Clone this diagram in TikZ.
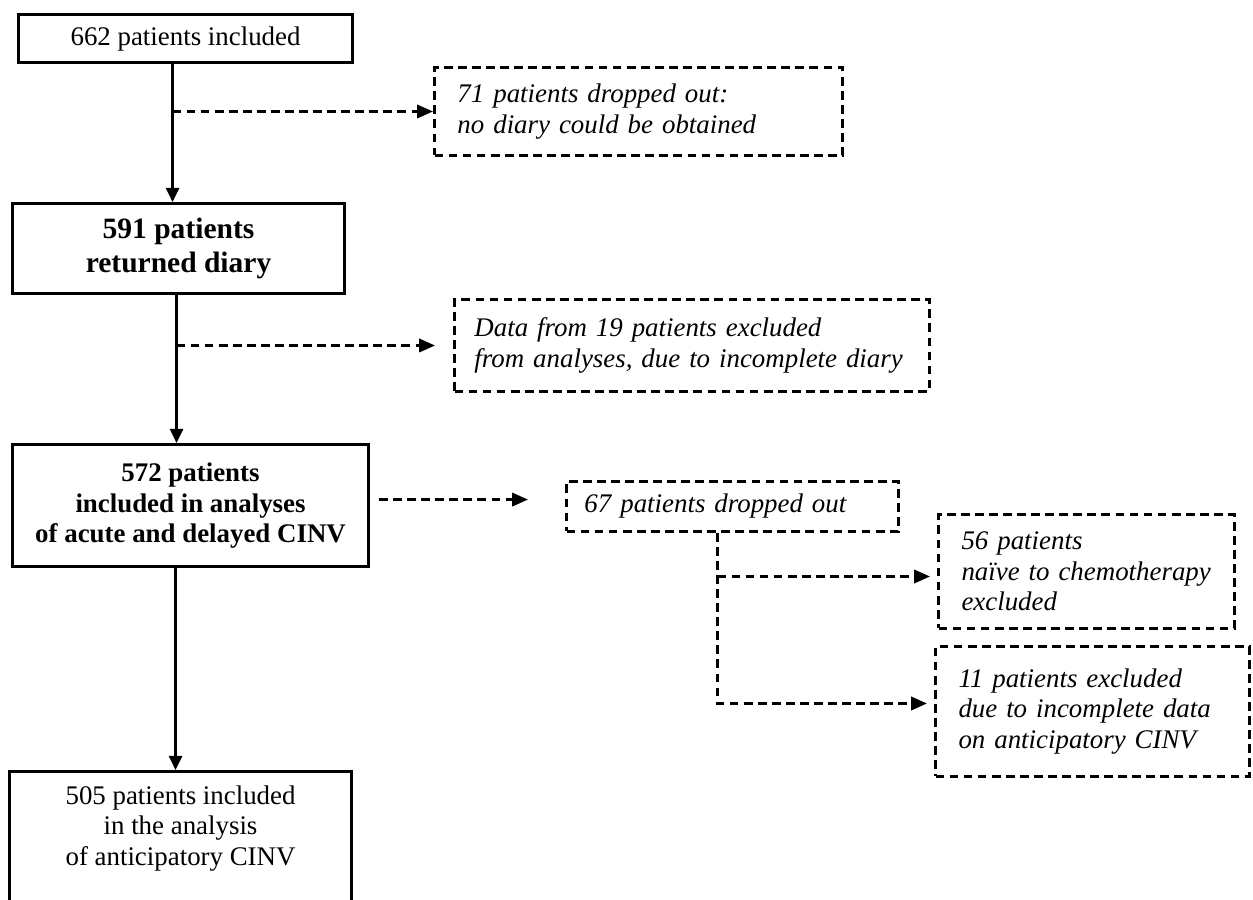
\documentclass[tikz,border=0pt]{standalone}
\usepackage{fontspec}
\setmainfont{Liberation Serif}
\usetikzlibrary{arrows.meta}

\begin{document}
\begin{tikzpicture}[x=0.02cm, y=-0.02cm]

      \tikzset{boxed/.style={draw, line width=1.8pt, anchor=north west, align=center, inner sep=0pt},
               dropped/.style={draw, line width=1.7pt, dash pattern=on 5pt off 3pt, anchor=north west, align=left, inner ysep=0pt, font=\fontsize{15.3}{17.5}\selectfont\itshape},
               flow/.style={line width=1.3pt, -{Triangle[length=8pt, width=7.5pt]}},
               dflow/.style={line width=1.6pt, dash pattern=on 5pt off 3pt, -{Triangle[length=9pt, width=7.5pt]}}}
      \useasboundingbox (0,0) rectangle (1253,899);
%% Main boxes
      	\node[boxed, minimum width=6.68cm, minimum height=0.96cm, font=\fontsize{15.3}{17.5}\selectfont] (m0) at (17,13) {662 patients included};
      	\node[boxed, minimum width=6.64cm, minimum height=1.8cm, font=\fontsize{16.8}{19}\selectfont\bfseries] (m1) at (11,202) {591 patients\\ returned diary};
      	\node[boxed, minimum width=7.12cm, minimum height=2.44cm, font=\fontsize{15.3}{17.6}\selectfont\bfseries] (m2) at (11,443) {572 patients\\ included in analyses\\ of acute and delayed CINV};
      	\node[boxed, minimum width=6.84cm, inner ysep=0.28cm, font=\fontsize{15.3}{17.5}\selectfont] (m3) at (8,770) {505 patients included\\ in the analysis\\ of anticipatory CINV\\[60pt] \mbox{}};
%% Dropped out
      	\node[dropped, text width=7.24cm, inner xsep=0.46cm, minimum height=1.76cm] (d0) at (433,66) {71 patients dropped out:\\ no diary could be obtained};
      	\node[dropped, text width=8.7cm, inner xsep=0.4cm, minimum height=1.84cm] (d1) at (453,298) {Data from 19 patients excluded\\ from analyses, due to incomplete diary};
      	\node[dropped, text width=5.92cm, inner xsep=0.36cm, minimum height=1cm] (d2) at (565,480) {67 patients dropped out};
      	\node[dropped, text width=5.0cm, inner xsep=0.46cm, minimum height=2.28cm] (d3) at (937,513) {56 patients\\ naïve to chemotherapy\\ excluded};
      	\node[dropped, text width=5.36cm, inner xsep=0.46cm, minimum height=2.6cm] (d4) at (934,645) {11 patients excluded\\ due to incomplete data\\ on anticipatory CINV};
%Arrows
		\coordinate (t0) at ([xshift=-0.26cm]m0.south);
		\coordinate (t1) at ([xshift=-0.04cm]m1.south);
		\coordinate (t2) at ([xshift=-0.3cm]m2.south);
		\draw[flow] (t0) -- (t0 |- m1.north);
		\draw[flow] (t1) -- (t1 |- m2.north);
		\draw[flow] (t2) -- (t2 |- m3.north);
		\draw[dflow] (t0 |- d0.west) -- (d0.west);
		\draw[dflow] (t1 |- d1.west) -- ([xshift=-0.36cm]d1.west);
		\coordinate (t3) at ([xshift=0.18cm, yshift=0.12cm]m2.east);
		\coordinate (t4) at ([xshift=-0.74cm]d2.west);
		\draw[dflow] (t3) -- (t4 |- t3);
		\coordinate (t5) at ([xshift=-0.3cm]d2.south);
		\coordinate (t6) at ([xshift=-0.14cm, yshift=-0.1cm]d3.west);
		\coordinate (t7) at ([xshift=-0.14cm, yshift=0.16cm]d4.west);
		\draw[dflow] (t5) |- (t7);
		\draw[dflow] (t5 |- t6) -- (t6);

	\end{tikzpicture}
\end{document}
